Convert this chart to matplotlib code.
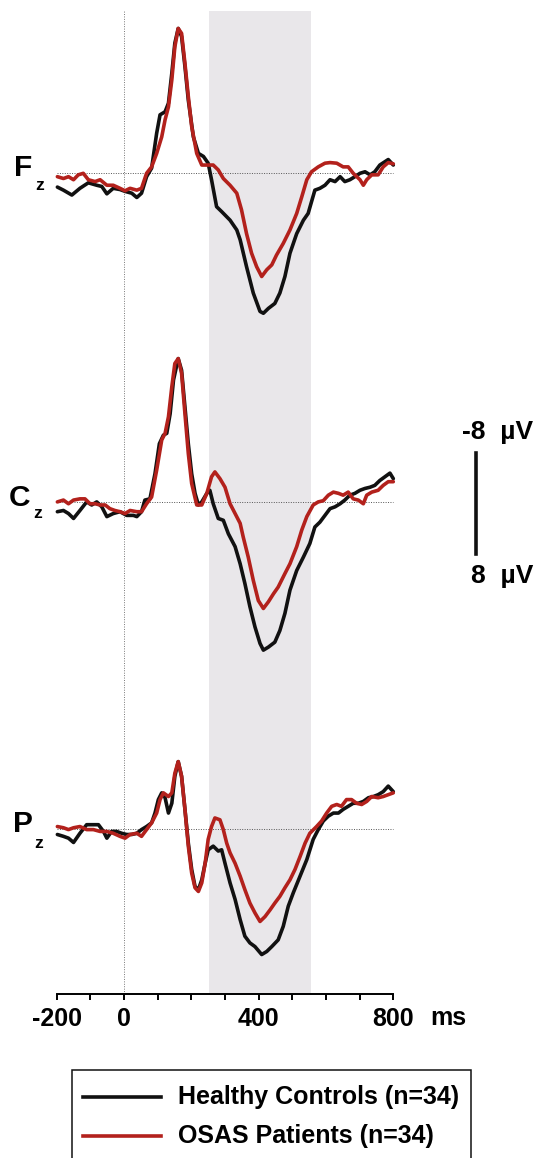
import matplotlib
matplotlib.use("Agg")
import matplotlib.pyplot as plt
from matplotlib.patches import Rectangle
from matplotlib.lines import Line2D

plt.rcParams['font.family'] = ['Liberation Sans', 'DejaVu Sans']

# ---------------- data (ms, µV; negative plotted up) ----------------
channels = ["F", "C", "P"]
channel_offsets = [0.0, 53.7, 107.1]
group_names = ["Healthy Controls (n=34)", "OSAS Patients (n=34)"]
shade_window = [252, 555]
x_ticks_major = [-200, 0, 400, 800]
x_ticks_minor = [-200, -100, 0, 100, 200, 300, 400, 500, 600, 700, 800]
scale_labels = ["-8  µV", "8  µV"]
scale_range = [-8, 8]

fz_hc_t = [-198, -180, -155, -131, -106, -81, -66, -51, -32, -12, 3, 23, 38, 52, 67, 82, 97, 107, 122, 132,
           142, 151, 161, 171, 181, 191, 206, 221, 236, 250, 260, 275, 290, 315, 335, 345, 364, 384, 404, 414,
           429, 448, 463, 478, 493, 513, 533, 547, 567, 582, 597, 612, 627, 642, 656, 671, 686, 701, 716, 731,
           745, 760, 785, 800]
fz_hc_v = [2.3, 2.8, 3.6, 2.5, 1.6, 2.0, 2.2, 3.4, 2.5, 2.7, 3.0, 3.3, 4.0, 3.3, 0.6, -0.8, -6.5, -9.5, -10.0, -11.4,
           -16.3, -21.2, -23.6, -22.3, -17.4, -11.9, -5.9, -3.2, -2.7, -1.6, 1.1, 5.5, 6.3, 7.7, 9.3, 10.9, 15.3, 19.6, 22.6, 22.9,
           22.1, 21.3, 19.6, 16.9, 13.1, 9.9, 7.7, 6.6, 2.8, 2.5, 2.0, 1.1, 1.4, 0.6, 1.4, 1.1, 0.6, 0.05, -0.2, 0.3,
           -0.2, -1.3, -2.2, -1.3]
fz_os_t = [-198, -180, -165, -150, -136, -121, -106, -86, -71, -51, -32, -12, 3, 18, 38, 52, 67, 82, 97, 112,
           122, 132, 142, 151, 161, 171, 181, 191, 201, 216, 231, 246, 265, 280, 295, 315, 335, 349, 364, 379,
           394, 409, 424, 439, 453, 473, 493, 513, 528, 543, 557, 577, 597, 612, 632, 651, 666, 681, 701, 711,
           721, 736, 755, 770, 785, 800]
fz_os_v = [0.6, 0.9, 0.6, 1.1, 0.3, 0.05, 1.1, 1.4, 1.1, 2.0, 2.0, 2.5, 2.9, 2.5, 2.8, 2.5, 0.05, -1.0, -3.2, -5.9,
           -8.7, -10.8, -15.2, -20.6, -23.6, -22.8, -17.9, -12.5, -7.6, -3.2, -1.3, -1.3, -1.3, -0.5, 0.9, 2.0, 3.3, 6.0, 9.9, 13.1,
           15.3, 16.9, 15.8, 15.0, 13.4, 11.5, 9.3, 6.6, 3.9, 1.1, -0.2, -1.0, -1.6, -1.7, -1.6, -1.0, -1.0, 0.05, 1.1, 2.0,
           1.1, 0.3, 0.3, -1.0, -1.7, -1.5]

cz_hc_t = [-198, -180, -165, -150, -131, -111, -96, -81, -66, -51, -32, -12, 8, 28, 38, 52, 62, 77, 92, 105,
           117, 127, 137, 147, 161, 171, 181, 191, 201, 211, 221, 231, 246, 255, 265, 280, 295, 310, 330, 345,
           359, 374, 389, 404, 414, 429, 448, 463, 478, 493, 513, 533, 552, 567, 582, 597, 612, 627, 642, 656,
           671, 686, 701, 716, 731, 745, 760, 775, 790, 800]
cz_hc_v = [1.6, 1.4, 1.9, 2.7, 1.4, 0.0, 0.5, 0.0, 0.8, 2.4, 1.9, 1.6, 2.2, 2.2, 2.4, 1.6, -0.3, -0.5, -4.6, -9.5,
           -10.9, -11.2, -14.4, -19.9, -23.4, -21.5, -15.5, -9.5, -4.6, -1.4, 0.5, 0.0, -1.4, -1.9, 0.3, 2.7, 3.0, 5.2, 7.3, 10.1,
           13.3, 17.1, 20.4, 23.1, 24.2, 23.7, 22.9, 21.0, 18.2, 14.4, 11.2, 9.0, 6.8, 4.1, 3.3, 2.2, 1.1, 0.8, 0.3, -0.3,
           -1.1, -1.4, -1.9, -2.2, -2.4, -2.7, -3.5, -4.1, -4.7, -3.8]
cz_os_t = [-198, -180, -165, -150, -131, -116, -101, -86, -71, -56, -42, -27, -12, 3, 18, 38, 52, 67, 82, 97,
           112, 122, 132, 142, 151, 161, 171, 181, 191, 201, 216, 231, 246, 260, 270, 285, 300, 315, 330, 345,
           354, 369, 384, 399, 414, 429, 444, 458, 478, 493, 513, 528, 543, 562, 577, 592, 607, 622, 637, 651,
           666, 681, 696, 711, 721, 736, 755, 770, 785, 800]
cz_os_v = [0.0, -0.3, 0.3, -0.3, -0.5, -0.5, 0.3, 0.3, 0.5, 0.5, 1.1, 1.4, 1.6, 1.9, 1.4, 1.6, 1.6, 0.3, -0.8, -5.2,
           -10.1, -11.2, -13.9, -18.8, -22.6, -23.4, -21.0, -14.4, -7.9, -3.0, 0.5, 0.5, -1.4, -4.1, -4.9, -3.8, -2.4, 0.3, 1.9, 3.5,
           5.7, 9.0, 12.8, 16.1, 17.4, 16.3, 15.0, 13.9, 11.7, 10.1, 7.3, 4.6, 2.4, 0.5, 0.0, -0.2, -1.1, -1.6, -1.4, -1.1,
           -1.6, -0.5, -0.3, 0.3, -1.1, -1.6, -1.9, -2.7, -3.3, -3.3]

pz_hc_t = [-198, -180, -165, -150, -131, -111, -91, -76, -61, -51, -37, -22, -7, 8, 23, 38, 52, 67, 82, 92,
           102, 112, 122, 132, 142, 151, 161, 171, 181, 191, 201, 211, 221, 231, 241, 250, 265, 280, 290, 300,
           315, 330, 345, 359, 374, 389, 409, 424, 439, 458, 473, 488, 503, 523, 543, 562, 577, 592, 607, 622,
           637, 651, 666, 681, 696, 711, 726, 741, 755, 770, 785, 800]
pz_hc_v = [0.9, 1.2, 1.5, 2.2, 0.7, -0.7, -0.7, -0.7, 0.4, 1.5, 0.4, 0.4, 0.7, 0.9, 0.9, 0.7, 0.1, -0.4, -1.0, -2.6,
           -4.8, -5.9, -5.1, -2.6, -4.2, -8.6, -11.0, -8.6, -3.2, 2.3, 6.6, 9.4, 9.9, 8.3, 5.6, 3.4, 2.8, 3.6, 3.4, 5.6,
           8.8, 11.5, 14.8, 17.5, 18.6, 19.2, 20.5, 20.0, 19.2, 18.1, 15.9, 12.6, 10.4, 7.7, 5.0, 1.7, 0.1, -1.3, -2.1, -2.6,
           -2.6, -3.2, -3.7, -4.2, -4.2, -4.5, -5.1, -5.3, -5.6, -6.1, -7.0, -6.1]
pz_os_t = [-198, -180, -165, -150, -131, -111, -91, -71, -51, -32, -12, 3, 18, 38, 52, 67, 82, 97, 107, 117,
           132, 142, 151, 161, 171, 181, 191, 201, 211, 221, 231, 241, 250, 260, 270, 285, 295, 305, 315, 330,
           345, 359, 374, 389, 404, 419, 434, 448, 463, 478, 493, 508, 523, 538, 552, 572, 587, 602, 617, 632,
           646, 661, 676, 691, 706, 721, 736, 755, 770, 785, 800]
pz_os_v = [-0.4, -0.2, 0.1, -0.2, -0.4, 0.1, 0.1, 0.4, 0.4, 0.7, 1.2, 1.5, 0.9, 0.7, 1.2, 0.1, -1.0, -2.6, -4.8, -5.9,
           -5.3, -5.9, -9.1, -11.0, -8.6, -3.2, 2.8, 7.2, 9.6, 10.2, 8.8, 5.6, 1.7, -0.4, -1.8, -1.5, 0.1, 2.3, 3.9, 5.6,
           7.7, 9.9, 12.1, 13.7, 15.1, 14.3, 13.2, 12.1, 11.0, 9.6, 8.3, 6.6, 4.5, 2.3, 0.7, -0.4, -1.3, -2.6, -3.7, -4.0,
           -3.7, -4.8, -4.8, -4.2, -4.0, -4.5, -5.3, -5.1, -5.3, -5.6, -5.9]

traces = {
    "F": [(fz_hc_t, fz_hc_v), (fz_os_t, fz_os_v)],
    "C": [(cz_hc_t, cz_hc_v), (cz_os_t, cz_os_v)],
    "P": [(pz_hc_t, pz_hc_v), (pz_os_t, pz_os_v)],
}

# ---------------- styling ----------------
W, H = 539, 1158
colors = ["#111111", "#b3211c"]
shade_color = "#e9e7ea"
px_per_uv = 6.125

fig = plt.figure(figsize=(W / 100, H / 100), dpi=100)

def fx(px):
    return px / W

def fy(py):
    return 1 - py / H

px_per_ms = (393.3 - 56.7) / 1000.0
ax_left = 56.7 - 10 * px_per_ms
ax_right = 393.3 + 10 * px_per_ms
ax_top, ax_bottom = 8, 994
ax = fig.add_axes([fx(ax_left), fy(ax_bottom), (ax_right - ax_left) / W, (ax_bottom - ax_top) / H])
ax.set_xlim(-210, 810)
ax.set_ylim((ax_bottom - 173) / px_per_uv, (ax_top - 173) / px_per_uv)

ax.axvspan(shade_window[0], shade_window[1], ymin=0, ymax=(ax_bottom - 11) / (ax_bottom - ax_top),
           color=shade_color, lw=0, zorder=0)
ax.axvline(0, ymin=0, ymax=(ax_bottom - 10) / (ax_bottom - ax_top), color="#777777", lw=0.7,
           ls=(0, (1, 1.5)), zorder=1)

for ch, off in zip(channels, channel_offsets):
    ax.plot([-200, 800], [off, off], color="#555555", lw=0.7, ls=(0, (1, 1.5)), zorder=1)
    for (t, v), c in zip(traces[ch], colors):
        ax.plot(t, [val + off for val in v], color=c, lw=2.6, solid_joinstyle="round",
                solid_capstyle="round", zorder=3, clip_on=False)

for s in ["top", "right", "left"]:
    ax.spines[s].set_visible(False)
ax.spines["bottom"].set_bounds(-200, 800)
ax.spines["bottom"].set_linewidth(1.4)
ax.set_yticks([])
ax.set_xticks(x_ticks_major)
ax.set_xticklabels([str(v) for v in x_ticks_major], fontsize=18, fontweight="bold")
ax.set_xticks(x_ticks_minor, minor=True)
ax.tick_params(axis="x", which="both", direction="out", length=4, width=1.4, pad=5)
ax.patch.set_alpha(0)

fig.text(fx(448), fy(1018), "ms", fontsize=18, fontweight="bold", ha="center", va="center")

# channel labels
label_pos = [(14, 167.5, 35, 185.5), (9, 498, 33, 514), (13, 824, 34, 843)]
for ch, (lx, ly, zx, zy) in zip(channels, label_pos):
    fig.text(fx(lx), fy(ly), ch, fontsize=21.5, fontweight="bold", ha="left", va="center")
    fig.text(fx(zx), fy(zy), "z", fontsize=12.5, fontweight="bold", ha="left", va="center")

# scale bar
fig.add_artist(Line2D([fx(476), fx(476)], [fy(453), fy(554)], color="#111111", lw=2.6))
fig.text(fx(497.5), fy(432), scale_labels[0], fontsize=19, fontweight="bold", ha="center", va="center")
fig.text(fx(502.5), fy(576), scale_labels[1], fontsize=19, fontweight="bold", ha="center", va="center")

# legend box
fig.add_artist(Rectangle((fx(72), fy(1180)), (471 - 72) / W, (1180 - 1070) / H,
                         transform=fig.transFigure, fill=False, edgecolor="#111111", lw=1.1,
                         clip_on=False))
for name, c, py in zip(group_names, colors, [1097, 1136]):
    fig.add_artist(Line2D([fx(83), fx(161)], [fy(py), fy(py)], color=c, lw=2.6))
    fig.text(fx(178), fy(py), name, fontsize=18, fontweight="bold", ha="left", va="center")

fig.savefig("out.png", dpi=100)
